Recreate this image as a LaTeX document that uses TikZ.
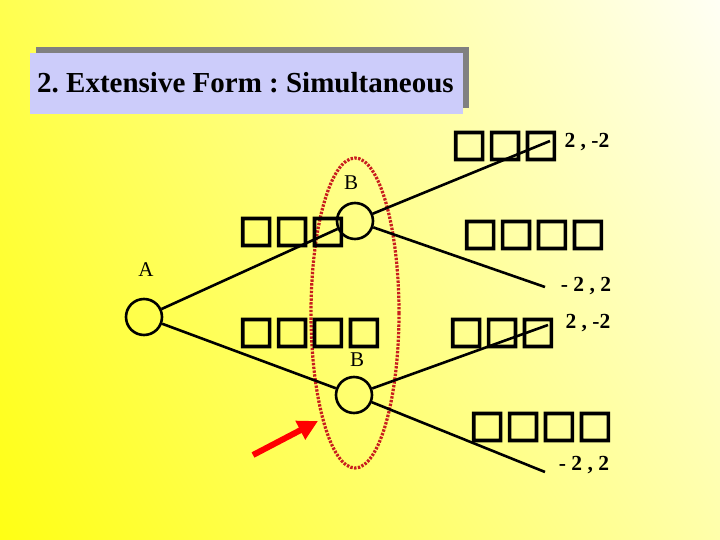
\documentclass[tikz,border=0pt]{standalone}
\usepackage{fontspec}
\setmainfont{Liberation Serif}
\newfontfamily\boxfont[FakeBold=4]{DejaVu Sans}
\usetikzlibrary{arrows.meta,shadings}
\frenchspacing
\definecolor{titlefill}{RGB}{204,204,250}
\definecolor{shadowgray}{RGB}{128,128,128}
\definecolor{ovalred}{RGB}{200,30,30}
\definecolor{bgA}{RGB}{255,255,80}
\definecolor{bgB}{RGB}{255,255,245}
\definecolor{bgC}{RGB}{255,255,20}
\definecolor{bgD}{RGB}{255,255,170}
\tikzset{
  decision/.style={circle,draw=black,line width=2.6pt,minimum size=36pt,inner sep=0pt},
  branch/.style={line width=2.6pt,black},
  lbl/.style={font=\fontsize{21}{24}\selectfont,inner sep=0pt},
  pay/.style={font=\bfseries\fontsize{21.5}{24}\selectfont,inner sep=0pt},
  tofu/.style={font=\boxfont\fontsize{38}{42}\selectfont,inner sep=0pt},
}
\begin{document}
\begin{tikzpicture}[x=1pt,y=-1pt]
\useasboundingbox (0,0) rectangle (720,540);
\shade[upper left=bgA,upper right=bgB,lower left=bgC,lower right=bgD] (0,0) rectangle (720,540);
% title
\fill[shadowgray] (36,47) rectangle (469,108);
\node[fill=titlefill,minimum width=433pt,minimum height=61pt,anchor=north west,inner sep=0pt] (title) at (30,53) {};
\node[font=\bfseries\fontsize{29}{32}\selectfont,anchor=base west,inner sep=0pt] (titletext) at (37,93) {2. Extensive Form : Simultaneous};
% nodes
\node[decision] (A) at (144,317) {};
\node[decision] (B1) at (355,221) {};
\node[decision] (B2) at (354,395) {};
\coordinate (t1) at (550,141);
\coordinate (t2) at (545,287);
\coordinate (t3) at (548,325);
\coordinate (t4) at (545,472);
% oval
\draw[ovalred,line width=3.2pt,dash pattern=on 2.4pt off 1.4pt] (355,313) ellipse [x radius=44, y radius=155];
% branches
\draw[branch] (A) -- (B1);
\draw[branch] (A) -- (B2);
\draw[branch] (B1) -- (t1);
\draw[branch] (B1) -- (t2);
\draw[branch] (B2) -- (t3);
\draw[branch] (B2) -- (t4);
% labels
\node[lbl] (la) at (146,270) {A};
\node[lbl] (lb1) at (351,183) {B};
\node[lbl] (lb2) at (357,360) {B};
\node[pay] (p1) at (587,142) {2 , -2};
\node[pay] (p2) at (586,286) {- 2 , 2};
\node[pay] (p3) at (588,323) {2 , -2};
\node[pay] (p4) at (584,465) {- 2 , 2};
% tofu texts
\node[tofu,anchor=west] (s1) at (451,146) {□□□};
\node[tofu,anchor=west] (s2) at (238,232) {□□□};
\node[tofu,anchor=west] (s3) at (462,235) {□□□□};
\node[tofu,anchor=west] (s4) at (238,333) {□□□□};
\node[tofu,anchor=west] (s5) at (448,333) {□□□};
\node[tofu,anchor=west] (s6) at (469,427) {□□□□};
% red arrow
\coordinate (arrtail) at (253,455);
\coordinate (arrtip) at (318,421);
\draw[red,line width=6pt,-{Triangle[length=20pt,width=20pt]}] (arrtail) -- (arrtip);
\end{tikzpicture}
\end{document}
